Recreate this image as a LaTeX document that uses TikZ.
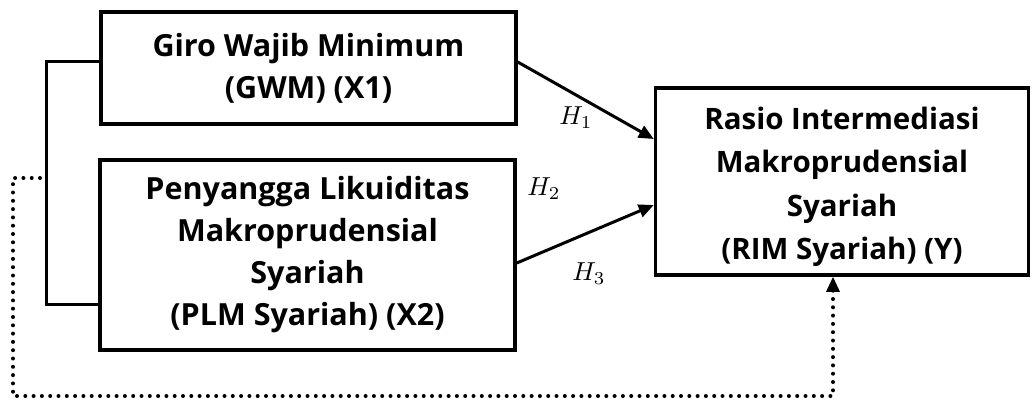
\documentclass[tikz,border=0pt]{standalone}
\usepackage{fontspec}
\setmainfont{Open Sans}
\usetikzlibrary{arrows.meta,calc}
\tikzset{
  box/.style={draw,line width=3.5pt,align=center,font=\fontsize{30.5}{42}\selectfont\bfseries,inner sep=0pt},
  arr/.style={line width=3pt,-{Triangle[length=15pt,width=13pt]}},
  brk/.style={line width=3pt},
  dots/.style={line width=4pt,line cap=round,dash pattern=on 0pt off 8.3pt},
  hlab/.style={inner sep=0pt}
}
\newcommand{\hyp}[1]{\scalebox{2.6}{$H_{#1}$}}
\begin{document}
\begin{tikzpicture}[x=1pt,y=-1pt]
\useasboundingbox (0,0) rectangle (1032,399);
\node[box,minimum width=415pt,minimum height=112pt] (x1) at (308.5,68) {Giro Wajib Minimum\\(GWM) (X1)};
\node[box,minimum width=415pt,minimum height=190pt] (x2) at (307.5,255) {Penyangga Likuiditas\\Makroprudensial\\Syariah\\(PLM Syariah) (X2)};
\node[box,minimum width=373pt,minimum height=187pt] (y) at (842,181.5) {};
\node[align=center,font=\fontsize{29.5}{43.5}\selectfont\bfseries,inner sep=0pt] (yt) at (842,187) {Rasio Intermediasi\\Makroprudensial\\Syariah\\(RIM Syariah) (Y)};
\coordinate (b1) at (46,61);
\coordinate (b2) at (46,304);
\draw[brk] (x1.west |- b1) -- (b1) -- (b2) -- (x2.west |- b2);
\coordinate (d1) at (40,178);
\coordinate (d2) at (13,178);
\coordinate (d3) at (13,396);
\coordinate (d4) at (833,396);
\draw[dots] (d1) -- (d2) -- (d3) -- (d4) -- ($(d4 |- y.south)+(0,12)$);
\draw[line width=3pt,-{Triangle[length=15pt,width=13pt]}] ($(d4 |- y.south)+(0,14)$) -- (d4 |- y.south);
\coordinate (s1) at (517,62);
\coordinate (s3) at (517,263);
\draw[arr] (x1.east |- s1) -- ($(y.west)+(0,-42.5)$);
\draw[arr] (x2.east |- s3) -- ($(y.west)+(0,23.5)$);
\node[hlab] (h1) at (576,118) {\hyp{1}};
\node[hlab] (h2) at (544,189) {\hyp{2}};
\node[hlab] (h3) at (589,274) {\hyp{3}};
\end{tikzpicture}
\end{document}
